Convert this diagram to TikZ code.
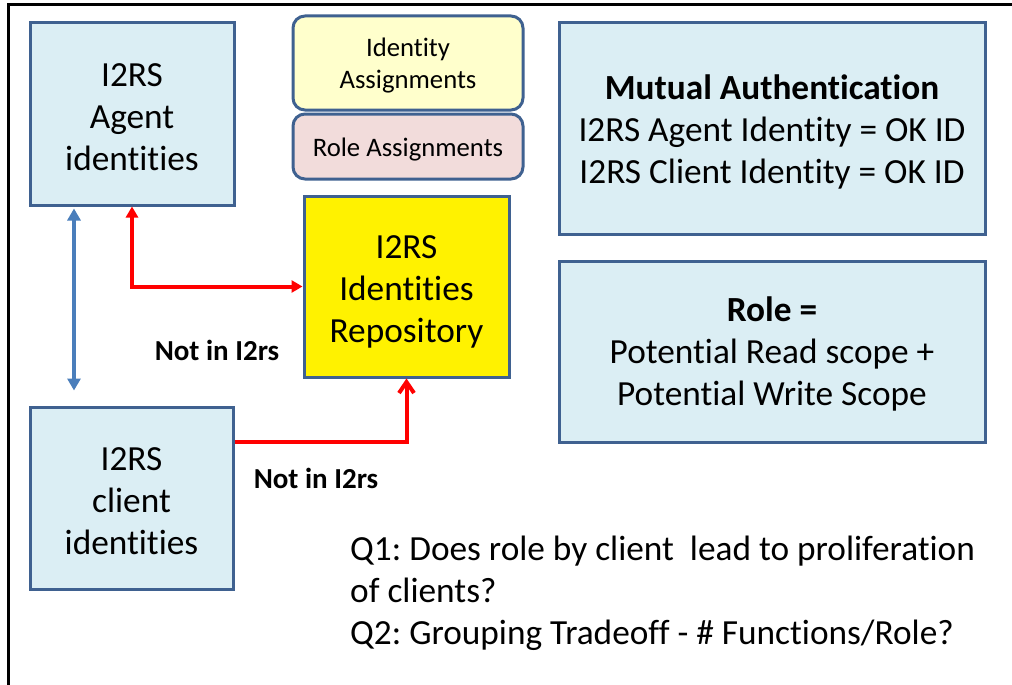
\documentclass[tikz,border=0pt]{standalone}
\usepackage{fontspec}
\setmainfont[Ligatures={NoCommon}]{Carlito}
\usetikzlibrary{arrows.meta}
\definecolor{boxblue}{HTML}{DBEEF4}
\definecolor{boxline}{HTML}{3F6190}
\definecolor{lightyel}{HTML}{FFFFCC}
\definecolor{lightpink}{HTML}{F2DCDB}
\definecolor{arrblue}{HTML}{4A7EBB}
\definecolor{arrred}{HTML}{FF0000}
\tikzset{
  bluebox/.style={draw=boxline, line width=3pt, fill=boxblue, inner sep=0pt},
  roundbox/.style={draw=boxline, line width=3pt, rounded corners=12pt, inner sep=0pt, minimum width=230pt},
  bigtxt/.style={inner sep=0pt, align=center, font=\fontsize{35.3}{42}\selectfont},
  smalltxt/.style={inner sep=0pt, align=center, font=\fontsize{26.7}{32}\selectfont},
  redline/.style={draw=arrred, line width=4pt},
  lbl/.style={font=\fontsize{29}{34}\selectfont\bfseries, inner sep=0pt}
}
\begin{document}
\frenchspacing
\begin{tikzpicture}[x=1pt, y=-1pt]
\useasboundingbox (0,0) rectangle (1012,685);
% frame
\draw[line width=3pt, black] (8,686) -- (8,5) -- (1014,5);
% boxes
\node[bluebox, minimum width=204pt, minimum height=182pt] (agent) at (132,114) {};
\node[bigtxt] (agenttxt) at (132,117) {I2RS\\Agent\\identities};
\node[bluebox, minimum width=203pt, minimum height=182pt] (client) at (131.5,498) {};
\node[bigtxt] (clienttxt) at (131.5,501) {I2RS\\client\\identities};
\node[roundbox, fill=lightyel, minimum height=94pt] (idassign) at (408,63) {};
\node[smalltxt] (idassigntxt) at (408,66) {Identity\\Assignments};
\node[roundbox, fill=lightpink, minimum height=65pt] (roleassign) at (408,146.5) {};
\node[smalltxt] (roleassigntxt) at (408,150) {Role Assignments};
\node[bluebox, fill=yellow, minimum width=205pt, minimum height=181pt] (repo) at (406.5,286.5) {};
\node[bigtxt] (repotxt) at (406.5,292) {I2RS\\Identities\\Repository};
\node[bluebox, minimum width=426pt, minimum height=211pt] (mutual) at (772,128.5) {};
\node[bigtxt] (mutualtxt) at (772,131.5) {\textbf{Mutual Authentication}\\I2RS Agent Identity = OK ID\\I2RS Client Identity = OK ID};
\node[bluebox, minimum width=426pt, minimum height=181pt] (role) at (772,351.5) {};
\node[bigtxt] (roletxt) at (772,353.5) {\textbf{Role =}\\Potential Read scope +\\Potential Write Scope};
% connectors
\draw[draw=arrblue, line width=4pt, {Triangle[width=13pt,length=12pt]}-{Triangle[width=13pt,length=12pt]}]
  ([xshift=-58pt, yshift=-2pt]agent.south) -- ([xshift=-57.5pt, yshift=15pt]client.north);
\draw[redline, {Triangle[width=12pt,length=11pt]}-{Triangle[width=12pt,length=11pt]}]
  (agent.south) |- (repo.west);
\draw[redline, -{Straight Barb[width=15pt,length=11pt,line width=4pt]}]
  ([yshift=56pt]client.east) -| (repo.south);
% labels
\node[lbl] (lbl1) at (217,350) {Not in I2rs};
\node[lbl] (lbl2) at (316,478) {Not in I2rs};
\node[anchor=west, align=left, inner sep=0pt, font=\fontsize{35.3}{42}\selectfont] (qtext) at (350,593)
  {Q1: Does role by client\ \ lead to proliferation\\of clients?\\Q2: Grouping Tradeoff - \# Functions/Role?};
\end{tikzpicture}
\end{document}
